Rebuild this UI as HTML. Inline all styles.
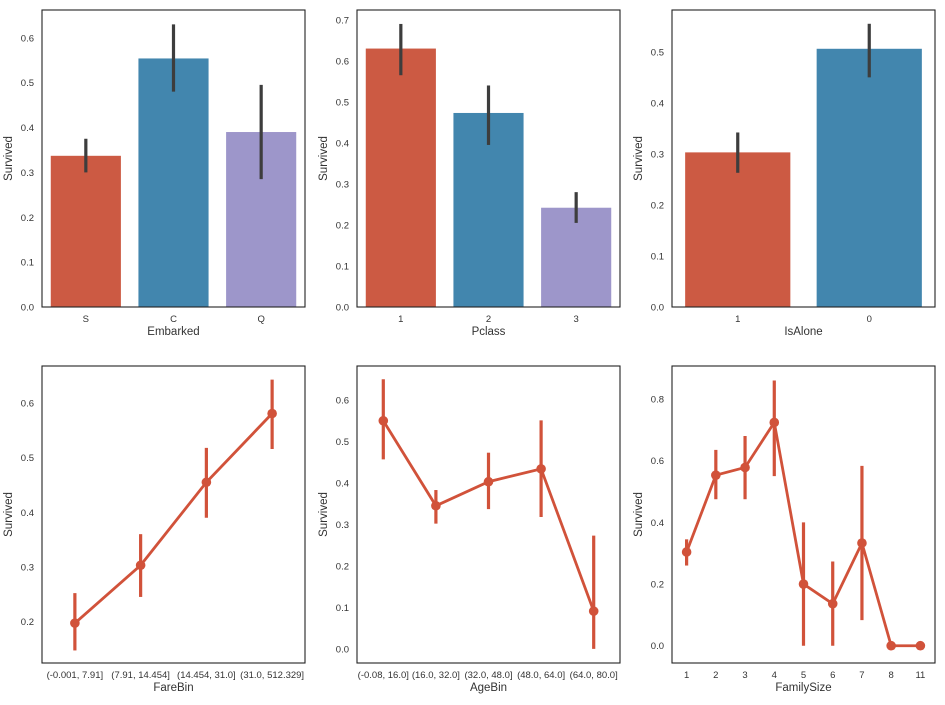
<!DOCTYPE html>
<html><head><meta charset="utf-8"><style>
body{margin:0;background:#fff;font-family:"Liberation Sans",sans-serif}
svg text{font-family:"Liberation Sans",sans-serif;fill:#333}
</style></head><body>
<svg id="fig" width="945" height="700" viewBox="0 0 945 700"></svg>
<script>
// Panel data
const embarkedCats=["S","C","Q"];
const embarkedVals=[0.337,0.554,0.39];
const embarkedLo=[0.30,0.48,0.285];
const embarkedHi=[0.375,0.63,0.495];
const pclassCats=["1","2","3"];
const pclassVals=[0.63,0.473,0.242];
const pclassLo=[0.565,0.395,0.205];
const pclassHi=[0.69,0.54,0.28];
const aloneCats=["1","0"];
const aloneVals=[0.303,0.506];
const aloneLo=[0.263,0.45];
const aloneHi=[0.342,0.555];
const fareCats=["(-0.001, 7.91]","(7.91, 14.454]","(14.454, 31.0]","(31.0, 512.329]"];
const fareVals=[0.197,0.303,0.455,0.581];
const fareLo=[0.147,0.245,0.39,0.516];
const fareHi=[0.252,0.36,0.518,0.643];
const ageCats=["(-0.08, 16.0]","(16.0, 32.0]","(32.0, 48.0]","(48.0, 64.0]","(64.0, 80.0]"];
const ageVals=[0.55,0.345,0.403,0.434,0.091];
const ageLo=[0.457,0.302,0.337,0.318,0];
const ageHi=[0.65,0.383,0.473,0.551,0.273];
const famCats=["1","2","3","4","5","6","7","8","11"];
const famVals=[0.304,0.553,0.578,0.724,0.2,0.136,0.333,0,0];
const famLo=[0.26,0.475,0.475,0.55,0,0,0.083,0,0];
const famHi=[0.345,0.635,0.68,0.86,0.4,0.273,0.583,0,0];
const tick1=[0,0.1,0.2,0.3,0.4,0.5,0.6];
const tick2=[0,0.1,0.2,0.3,0.4,0.5,0.6,0.7];
const tick3=[0,0.1,0.2,0.3,0.4,0.5];
const tick4=[0.2,0.3,0.4,0.5,0.6];
const tick5=[0,0.1,0.2,0.3,0.4,0.5,0.6];
const tick6=[0,0.2,0.4,0.6,0.8];

const svg=document.getElementById('fig');
const NS="http://www.w3.org/2000/svg";
function mk(tag,attrs,parent){const e=document.createElementNS(NS,tag);for(const k in attrs)e.setAttribute(k,attrs[k]);(parent||svg).appendChild(e);return e;}
const barColors=["#cc5a43","#4286ae","#9d96ca"];
const ptColor="#d1523a";

function panel(id,x0,x1,y0,y1,ymin,ymax,ticks,fmt,cats,vals,lo,hi,xlabel,type){
  const g=mk('g',{});
  
  
  const n=cats.length, w=(x1-x0)/n;
  const xs=i=>x0+w*(i+0.5);
  const ys=v=>y1-(v-ymin)/(ymax-ymin)*(y1-y0);
  if(type==='bar'){
    for(let i=0;i<n;i++){
      const r=mk('rect',{x:xs(i)-w*0.4,y:ys(vals[i]),width:w*0.8,height:ys(ymin)-ys(vals[i]),fill:barColors[i%3]},g);
      
      
      const l=mk('line',{x1:xs(i),x2:xs(i),y1:ys(lo[i]),y2:ys(hi[i]),stroke:"#3d3d3d","stroke-width":3.2},g);
      
      
    }
  } else {
    for(let i=0;i<n;i++){
      const l=mk('line',{x1:xs(i),x2:xs(i),y1:ys(lo[i]),y2:ys(hi[i]),stroke:ptColor,"stroke-width":3.2},g);
      
      
    }
    const pts=vals.map((v,i)=>xs(i)+','+ys(v)).join(' ');
    const pl=mk('polyline',{points:pts,fill:"none",stroke:ptColor,"stroke-width":2.8},g);
    
    
    for(let i=0;i<n;i++){
      const c=mk('circle',{cx:xs(i),cy:ys(vals[i]),r:4.8,fill:ptColor},g);
      
      
    }
  }
  const fr=mk('rect',{x:x0,y:y0,width:x1-x0,height:y1-y0,fill:"none",stroke:"#222","stroke-width":1.1},g);
  
  
  for(const t of ticks){
    const tx=mk('text',{x:x0-8,y:ys(t)+3.5,"text-anchor":"end","font-size":9.5},g);
    tx.textContent=t.toFixed(fmt);
    
    
  }
  for(let i=0;i<n;i++){
    const tx=mk('text',{x:xs(i),y:y1+15,"text-anchor":"middle","font-size":9.5},g);
    tx.textContent=cats[i];
    
    
  }
  const xl=mk('text',{x:(x0+x1)/2,y:y1+28,"text-anchor":"middle","font-size":11.5},g);
  xl.textContent=xlabel;
  
  
  const yl=mk('text',{x:0,y:0,"text-anchor":"middle","font-size":11.5,transform:`translate(${x0-30},${(y0+y1)/2}) rotate(-90)`},g);
  yl.textContent="Survived";
  
  
}
panel('embarked',42,305,10,307,0,0.662,tick1,1,embarkedCats,embarkedVals,embarkedLo,embarkedHi,"Embarked",'bar');
panel('pclass',357,620,10,307,0,0.724,tick2,1,pclassCats,pclassVals,pclassLo,pclassHi,"Pclass",'bar');
panel('isalone',672,935,10,307,0,0.582,tick3,1,aloneCats,aloneVals,aloneLo,aloneHi,"IsAlone",'bar');
panel('farebin',42,305,366,663,0.124,0.668,tick4,1,fareCats,fareVals,fareLo,fareHi,"FareBin",'point');
panel('agebin',357,620,366,663,-0.034,0.682,tick5,1,ageCats,ageVals,ageLo,ageHi,"AgeBin",'point');
panel('familysize',672,935,366,663,-0.056,0.907,tick6,1,famCats,famVals,famLo,famHi,"FamilySize",'point');
</script>
</body></html>
